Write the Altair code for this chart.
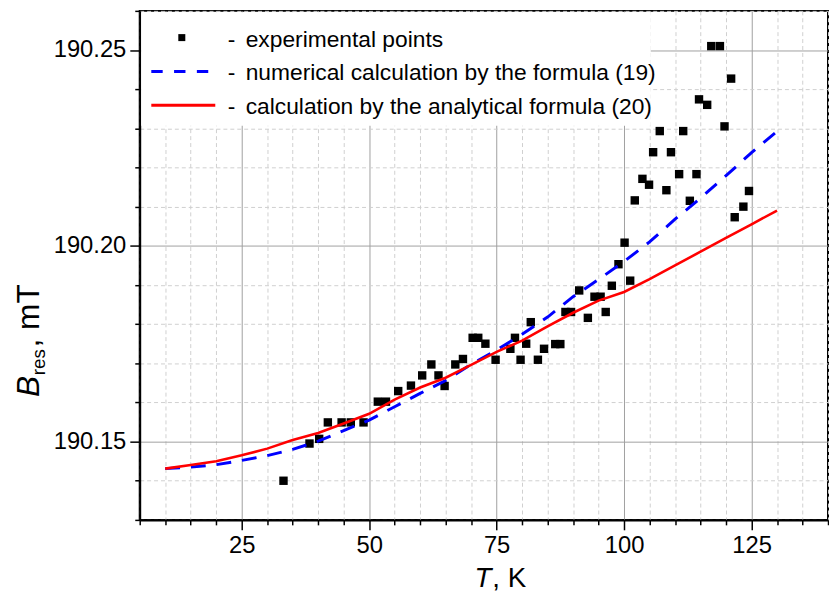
import altair as alt
import pandas as pd

# ---------------- data ----------------
exp_T = [33.2, 38.3, 40.2, 41.9, 44.6, 46.4, 48.9, 51.7, 53.3, 55.7,
         58.2, 60.4, 62.2, 63.6, 64.8, 66.9, 68.4, 70.3, 71.4, 72.8,
         74.8, 77.7, 78.6, 79.7, 80.8, 81.7, 83.1, 84.3, 86.5, 87.5,
         88.5, 89.6, 91.2, 92.9, 94.2, 95.4, 96.4, 97.6, 98.9, 100.1,
         101.2, 102.1, 103.6, 104.9, 105.7, 107.0, 108.3, 109.2, 110.8, 111.6,
         112.9, 114.2, 114.7, 116.3, 117.1, 118.8, 119.7, 121.0, 121.7, 123.4,
         124.5]
exp_B = [190.1400, 190.1495, 190.1507, 190.1549, 190.1549, 190.1549, 190.1549, 190.1602, 190.1602, 190.1629,
         190.1643, 190.1669, 190.1697, 190.1669, 190.1642, 190.1697, 190.1711, 190.1765, 190.1765, 190.1750,
         190.1709, 190.1737, 190.1765, 190.1709, 190.1750, 190.1805, 190.1709, 190.1737, 190.1749, 190.1749,
         190.1831, 190.1831, 190.1886, 190.1816, 190.1870, 190.1870, 190.1831, 190.1898, 190.1953, 190.2008,
         190.1911, 190.2116, 190.2171, 190.2156, 190.2239, 190.2293, 190.2142, 190.2239, 190.2183, 190.2293,
         190.2115, 190.2183, 190.2374, 190.2360, 190.2510, 190.2510, 190.2305, 190.2427, 190.2073, 190.2100,
         190.2140]

calc_T = [10, 15, 20, 25, 30, 35, 40, 45, 50, 55, 60, 65, 70,
          75, 80, 85, 90, 95, 100, 105, 110, 115, 120, 125, 130]
num_B = [190.1431, 190.1435, 190.1441, 190.1452, 190.1464, 190.1480, 190.1501, 190.1528, 190.1555,
         190.1589, 190.1623, 190.1656, 190.1697, 190.1734, 190.1774, 190.1818, 190.1870, 190.1914,
         190.1960, 190.2010, 190.2068, 190.2122, 190.2179, 190.2238, 190.2292]
ana_B = [190.1431, 190.1440, 190.1450, 190.1465, 190.1482, 190.1504, 190.1522, 190.1546, 190.1571,
         190.1607, 190.1638, 190.1663, 190.1696, 190.1729, 190.1758, 190.1794, 190.1829, 190.1860,
         190.1882, 190.1915, 190.1950, 190.1985, 190.2020, 190.2055, 190.2090]

legend_labels = ["experimental points",
                 "numerical calculation by the formula (19)",
                 "calculation by the analytical formula (20)"]

x_ticks = list(range(5, 141, 5))
y_ticks = [round(190.13 + 0.01 * i, 2) for i in range(14)]

# ---------------- chart ----------------
W, H = 695, 514
FONT = "Liberation Sans"

exp_df = pd.DataFrame({"T": exp_T, "B": exp_B})
calc_df = pd.DataFrame({"T": calc_T, "num": num_B, "ana": ana_B})
one = pd.DataFrame({"k": [0]})

xscale = alt.Scale(domain=[5, 140], nice=False, zero=False)
yscale = alt.Scale(domain=[190.13, 190.26], nice=False, zero=False)

mx = "datum.value % 25 == 0"
my = "round(datum.value * 1000) % 50 == 0"

common_axis = dict(
    title=None, grid=True, labelFont=FONT, labelFontSize=24, labelColor="black",
    tickColor="black", tickWidth=1.5, domainColor="black", domainWidth=2,
    gridWidth=1, labelOverlap=False, labelBound=False, labelFlush=False,
    tickCount=200,
)

xaxis = alt.Axis(
    values=x_ticks, format="d",
    labelExpr=f"{mx} ? datum.label : ''",
    gridColor={"condition": {"test": mx, "value": "#a0a0a0"}, "value": "#cfcfcf"},
    gridDash={"condition": {"test": mx, "value": []}, "value": [4, 3]},
    tickSize={"condition": {"test": mx, "value": 10}, "value": 5},
    labelPadding=4,
    **common_axis,
)
yaxis = alt.Axis(
    values=y_ticks,
    labelExpr=f"{my} ? format(datum.value, '.2f') : ''",
    gridColor={"condition": {"test": my, "value": "#a0a0a0"}, "value": "#cfcfcf"},
    gridDash={"condition": {"test": my, "value": []}, "value": [4, 3]},
    tickSize={"condition": {"test": my, "value": 10}, "value": 5},
    labelPadding=4,
    **common_axis,
)

points = alt.Chart(exp_df).mark_square(size=72, color="black", opacity=1).encode(
    x=alt.X("T:Q", scale=xscale, axis=xaxis),
    y=alt.Y("B:Q", scale=yscale, axis=yaxis),
)
line_num = alt.Chart(calc_df).mark_line(color="#0000ff", strokeWidth=3, strokeDash=[15, 11]).encode(
    x="T:Q", y="num:Q")
line_ana = alt.Chart(calc_df).mark_line(color="#ff0000", strokeWidth=2.6).encode(
    x="T:Q", y="ana:Q")

# legend (white box without border, as in the original)
leg_box = alt.Chart(one).mark_rect(color="white").encode(
    x=alt.value(1.5), x2=alt.value(516), y=alt.value(1.5), y2=alt.value(116))
leg_sq = alt.Chart(one).mark_square(size=50, color="black", opacity=1).encode(
    x=alt.value(42.5), y=alt.value(27))
leg_blue = alt.Chart(one).mark_rule(color="#0000ff", strokeWidth=3, strokeDash=[11.5, 11.5]).encode(
    x=alt.value(11.7), x2=alt.value(70), y=alt.value(61.3))
leg_red = alt.Chart(one).mark_rule(color="#ff0000", strokeWidth=3).encode(
    x=alt.value(11.7), x2=alt.value(76.3), y=alt.value(95.3))

leg_layers = []
for i, lab in enumerate(legend_labels):
    yb = 36.3 + i * 33.7
    ldf = pd.DataFrame({"label": [lab], "dash": ["-"]})
    leg_layers.append(alt.Chart(ldf).mark_text(font=FONT, fontSize=23, align="left", baseline="alphabetic",
                                               color="black").encode(
        text="dash:N", x=alt.value(89), y=alt.value(yb)))
    leg_layers.append(alt.Chart(ldf).mark_text(font=FONT, fontSize=23, align="left", baseline="alphabetic",
                                               color="black").encode(
        text="label:N", x=alt.value(107), y=alt.value(yb)))

# axis titles with italic symbols and subscript
tdf = pd.DataFrame({"T": ["T"], "K": [", K"], "B": ["B"], "res": ["res"], "mT": [", mT"]})
xt1 = alt.Chart(tdf).mark_text(font=FONT, fontSize=28, fontStyle="italic", align="left",
                               baseline="alphabetic", color="black").encode(
    text="T:N", x=alt.value(338), y=alt.value(582))
xt2 = alt.Chart(tdf).mark_text(font=FONT, fontSize=28, align="left",
                               baseline="alphabetic", color="black").encode(
    text="K:N", x=alt.value(356), y=alt.value(582))
yt1 = alt.Chart(tdf).mark_text(font=FONT, fontSize=32, fontStyle="italic", align="left", angle=270,
                               baseline="alphabetic", color="black").encode(
    text="B:N", x=alt.value(-102), y=alt.value(390))
yt2 = alt.Chart(tdf).mark_text(font=FONT, fontSize=19, align="left", angle=270,
                               baseline="alphabetic", color="black").encode(
    text="res:N", x=alt.value(-96), y=alt.value(368))
yt3 = alt.Chart(tdf).mark_text(font=FONT, fontSize=32, align="left", angle=270,
                               baseline="alphabetic", color="black").encode(
    text="mT:N", x=alt.value(-102), y=alt.value(340))

chart = alt.layer(
    points, line_num, line_ana, leg_box, leg_sq, leg_blue, leg_red, *leg_layers,
    xt1, xt2, yt1, yt2, yt3,
).properties(
    width=W, height=H,
    autosize=alt.AutoSizeParams(type="none"),
    padding={"left": 133, "top": 0, "right": 1, "bottom": 80},
    background="white",
).configure_view(stroke="black", strokeWidth=2)

chart.save("out.html", embed_options={"renderer": "svg", "actions": False})
